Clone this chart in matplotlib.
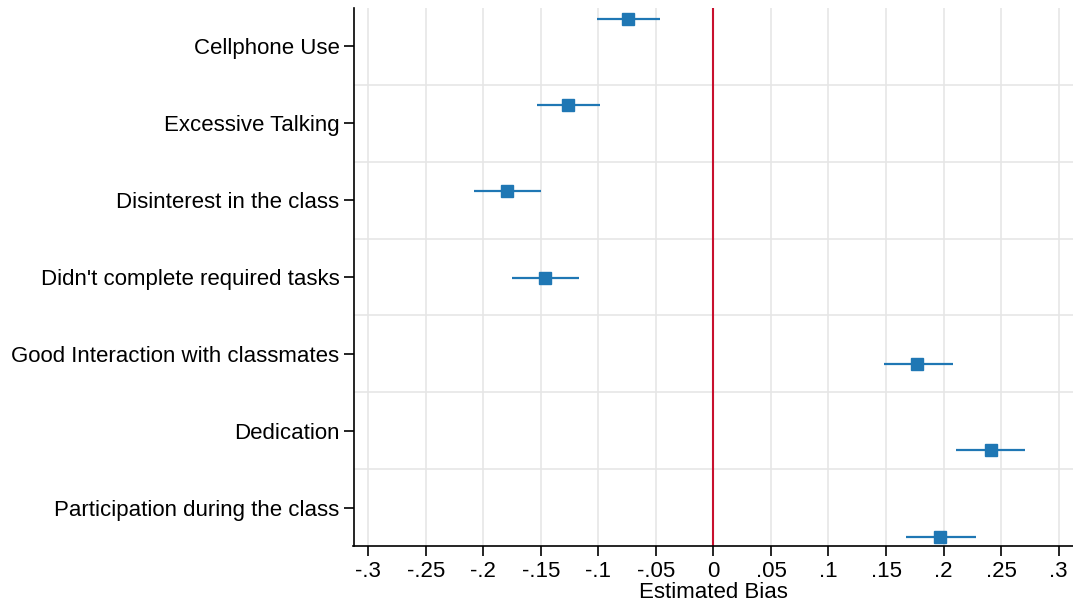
import numpy as np
import matplotlib
matplotlib.use('Agg')
import matplotlib.pyplot as plt

plt.rcParams['font.family'] = ['Liberation Sans', 'DejaVu Sans']

categorias = ['Cellphone Use', 'Excessive Talking', 'Disinterest in the class',
              "Didn't complete required tasks", 'Good Interaction with classmates',
              'Dedication', 'Participation during the class']
estimativas = [-0.0745, -0.126, -0.179, -0.146, 0.177, 0.241, 0.197]
ic_inf = [-0.1015, -0.153, -0.208, -0.175, 0.148, 0.211, 0.167]
ic_sup = [-0.0466, -0.099, -0.150, -0.117, 0.208, 0.271, 0.228]
xticks = [-0.3, -0.25, -0.2, -0.15, -0.1, -0.05, 0, 0.05, 0.1, 0.15, 0.2, 0.25, 0.3]
xtick_labels = ['-.3', '-.25', '-.2', '-.15', '-.1', '-.05', '0', '.05', '.1', '.15', '.2', '.25', '.3']

azul = '#1f77b4'
n = len(categorias)
pos_rotulos = np.arange(n)
# os pontos ficam deslocados em relacao aos rotulos (como no grafico original)
pos_pontos = np.linspace(-0.36, n - 1 + 0.38, n)

fig = plt.figure(figsize=(10.73, 6.08), dpi=100)
ax = fig.add_axes([353.5 / 1073, 1 - 546 / 608, (1073 - 353.5) / 1073, (546 - 8) / 608])

for x in xticks:
    ax.axvline(x, color='#e6e6e6', lw=1.2, zorder=0)
for y in pos_rotulos[:-1] + 0.5:
    ax.axhline(y, color='#e6e6e6', lw=1.2, zorder=0)

ax.axvline(0, color='#c8102e', lw=1.5, zorder=1)

est = np.array(estimativas)
ax.errorbar(est, pos_pontos, xerr=[est - np.array(ic_inf), np.array(ic_sup) - est],
            fmt='s', color=azul, ms=9, mec=azul, mfc=azul, elinewidth=1.6,
            capsize=0, zorder=3)

ax.set_xlim(-0.3128, 0.3125)
ax.set_ylim(n - 0.5, -0.5)
ax.set_yticks(pos_rotulos)
ax.set_yticklabels(categorias, fontsize=16)
ax.set_xticks(xticks)
ax.set_xticklabels(xtick_labels, fontsize=16)
ax.set_xlabel('Estimated Bias', fontsize=16, labelpad=0)
ax.tick_params(axis='both', length=7, width=1.2, color='black')
ax.tick_params(axis='y', pad=3)
ax.tick_params(axis='x', pad=4)

for lado in ['top', 'right']:
    ax.spines[lado].set_visible(False)
for lado in ['left', 'bottom']:
    ax.spines[lado].set_linewidth(1.2)

fig.savefig('out.png', dpi=100)
